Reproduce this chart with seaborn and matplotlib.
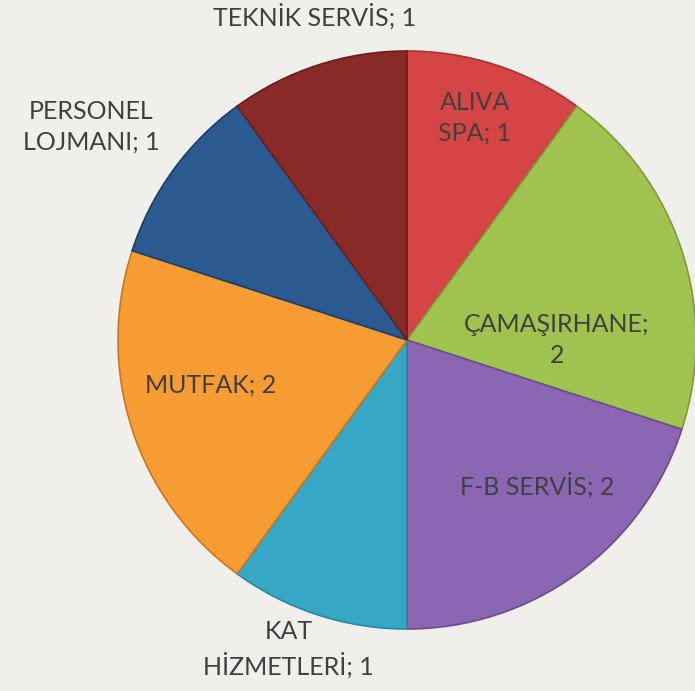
import numpy as np
import matplotlib
matplotlib.use("Agg")
import matplotlib.pyplot as plt
import seaborn as sns

# data
departments = ["ALIVA\nSPA", "ÇAMAŞIRHANE;", "F-B SERVİS", "KAT\nHİZMETLERİ",
               "MUTFAK", "PERSONEL\nLOJMANI", "TEKNİK SERVİS"]
counts = [1, 2, 2, 1, 2, 1, 1]

colors = ["#D64545", "#A0C24F", "#8B66B3", "#37A7C6", "#F79B33", "#2A5A90", "#8A2A27"]
edges = ["#B03030", "#7E9A3A", "#6A4D8C", "#2A86A0", "#C8771E", "#1D3F66", "#6A1D1B"]

# label placement (angle in degrees, radius in px), Excel "best fit" style
label_pos = [(73, 232), (0, 150), (-48, 195), (-111, 331), (193, 202), (146, 381), (106, 337)]

sns.set_theme(style="white")
plt.rcParams["font.family"] = ["Lato", "DejaVu Sans"]

bg = "#F0EFEB"
fig = plt.figure(figsize=(6.95, 6.91), dpi=100, facecolor=bg)
ax = fig.add_axes([0, 0, 1, 1])
ax.set_facecolor(bg)

cx, cy, R = 407, 351, 289
wedges, _ = ax.pie(counts, startangle=90, counterclock=False, colors=colors,
                   radius=R, center=(cx, cy),
                   wedgeprops=dict(linewidth=1.2))
for w, ec in zip(wedges, edges):
    w.set_edgecolor(ec)

for name, n, (ang, r) in zip(departments, counts, label_pos):
    a = np.deg2rad(ang)
    sep = "\n" if name.endswith(";") else "; "
    txt = name + sep + str(n)
    ax.text(cx + r * np.cos(a), cy + r * np.sin(a), txt, ha="center", va="center",
            fontsize=18, color="#404040", linespacing=1.4)

ax.set_xlim(0, 695)
ax.set_ylim(0, 691)
ax.set_aspect("equal")
ax.axis("off")

fig.savefig("out.png", dpi=100, facecolor=bg)
